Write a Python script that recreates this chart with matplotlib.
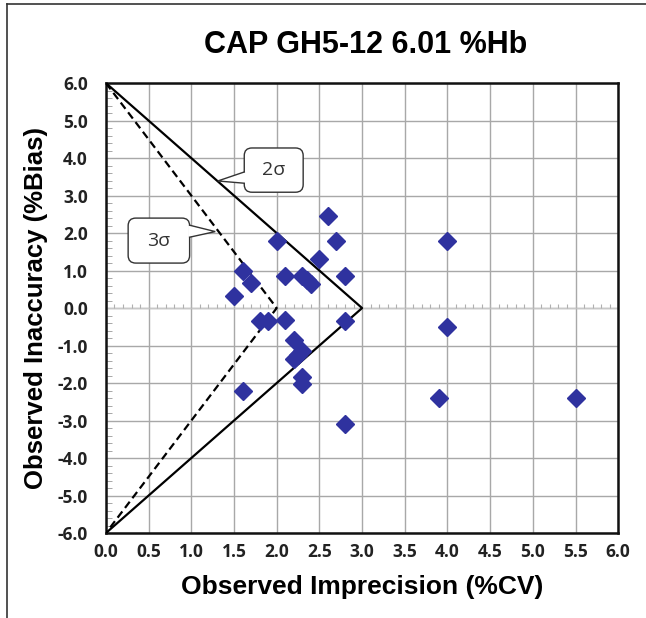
import numpy as np
import matplotlib
matplotlib.use("Agg")
import matplotlib.pyplot as plt
from matplotlib.lines import Line2D
from matplotlib.patches import FancyBboxPatch, Polygon
from matplotlib.ticker import MultipleLocator

# ---- data --------------------------------------------------------------
cv = [2.60, 2.00, 2.70, 2.50, 1.60, 1.70, 2.10, 2.30, 2.35, 2.40, 2.80,
      1.50, 1.80, 1.90, 2.10, 2.80, 2.20, 2.30, 2.20, 2.25, 2.30, 2.30,
      1.60, 2.80, 4.00, 4.00, 3.90, 5.50]
bias = [2.45, 1.80, 1.80, 1.32, 1.00, 0.66, 0.85, 0.85, 0.75, 0.65, 0.85,
        0.32, -0.35, -0.35, -0.32, -0.34, -0.85, -1.15, -1.35, -1.25,
        -1.85, -2.03, -2.20, -3.10, 1.80, -0.50, -2.40, -2.40]

# sigma limit triangles (TEa = 6 %)
two_sigma_x = [0.0, 3.0, 0.0]
two_sigma_y = [6.0, 0.0, -6.0]
three_sigma_x = [0.0, 2.0, 0.0]
three_sigma_y = [6.0, 0.0, -6.0]

x_ticks = np.arange(0, 6.01, 0.5)
y_ticks = np.arange(-6, 6.01, 1.0)

# callouts: label, box (x0, x1, y0, y1), wedge base y on box edge, tip
callouts = [
    ("2σ", (1.62, 2.31, 3.09, 4.27), "left", (3.63, 3.33), (1.31, 3.39)),
    ("3σ", (0.26, 0.98, 1.20, 2.40), "right", (2.21, 1.89), (1.28, 2.04)),
]

plt.rcParams["font.family"] = ["Liberation Sans", "DejaVu Sans"]

fig = plt.figure(figsize=(6.46, 6.18), dpi=100)
ax = fig.add_axes([0.164, 0.1375, 0.793, 0.728])

ax.set_xlim(0, 6)
ax.set_ylim(-6, 6)
ax.set_xticks(x_ticks)
ax.set_yticks(y_ticks)
ax.set_xticklabels([f"{v:.1f}" for v in x_ticks])
ax.set_yticklabels([f"{v:.1f}" for v in y_ticks])
ax.grid(True, color="#a8a8a8", lw=1.0)
ax.set_axisbelow(True)

ax.tick_params(axis="x", length=0, pad=7, labelsize=12.5)
ax.tick_params(axis="y", length=0, pad=13, labelsize=12.5)
for lab in ax.get_xticklabels() + ax.get_yticklabels():
    lab.set_fontweight("bold")
    lab.set_fontfamily(["Open Sans", "DejaVu Sans"])
    lab.set_color("#222222")
ax.yaxis.set_minor_locator(MultipleLocator(0.2))
ax.tick_params(axis="y", which="minor", direction="in", length=4,
               color="#999999")

for s in ax.spines.values():
    s.set_linewidth(1.8)
    s.set_color("#111111")

# zero axis with minor marks
ax.axhline(0, color="#c8c8c8", lw=1.0, zorder=1)
ax.vlines(np.arange(0, 6.01, 0.1), 0, 0.12, color="#b0b0b0", lw=0.8,
          zorder=1)

ax.plot(two_sigma_x, two_sigma_y, color="black", lw=1.6, zorder=3)
ax.plot(three_sigma_x, three_sigma_y, color="black", lw=1.6,
        ls=(0, (3.5, 2)), zorder=3)

ax.plot(cv, bias, ls="none", marker="D", ms=9.5, color="#2f329f",
        markeredgecolor="#2f329f", zorder=4)

# callout boxes with pointer wedge
aspect = (512 / 6) / (450 / 12)
for label, (x0, x1, y0, y1), side, (wa, wb), tip in callouts:
    ax.add_patch(FancyBboxPatch((x0, y0), x1 - x0, y1 - y0,
                                boxstyle="round,pad=0,rounding_size=0.09",
                                mutation_aspect=aspect, fc="white",
                                ec="#333333", lw=1.0, zorder=6))
    ex = x0 if side == "left" else x1
    inset = 0.015 if side == "left" else -0.015
    ax.add_patch(Polygon([(ex + inset, wa), tip, (ex + inset, wb)],
                         closed=True, fc="white", ec="none", zorder=7))
    ax.plot([ex, tip[0], ex], [wa, tip[1], wb], color="#333333", lw=1.0,
            zorder=8, solid_joinstyle="miter")
    ax.text((x0 + x1) / 2, (y0 + y1) / 2, label, fontsize=14,
            ha="center", va="center", zorder=9,
            family=["Open Sans", "DejaVu Sans"], color="#333333")

ax.set_xlabel("Observed Imprecision (%CV)", fontsize=19, fontweight="bold",
              labelpad=10)
ax.set_ylabel("Observed Inaccuracy (%Bias)", fontsize=18.5,
              fontweight="bold", labelpad=7)
fig.text(0.566, 0.927, "CAP GH5-12 6.01 %Hb", fontsize=22,
         fontweight="bold", ha="center", va="center")

# page frame (top and left edges)
fig.add_artist(Line2D([0.011, 1.0], [0.994, 0.994], color="#333333", lw=1.2))
fig.add_artist(Line2D([0.011, 0.011], [0.0, 0.994], color="#333333", lw=1.2))

fig.savefig("out.png", dpi=100)
